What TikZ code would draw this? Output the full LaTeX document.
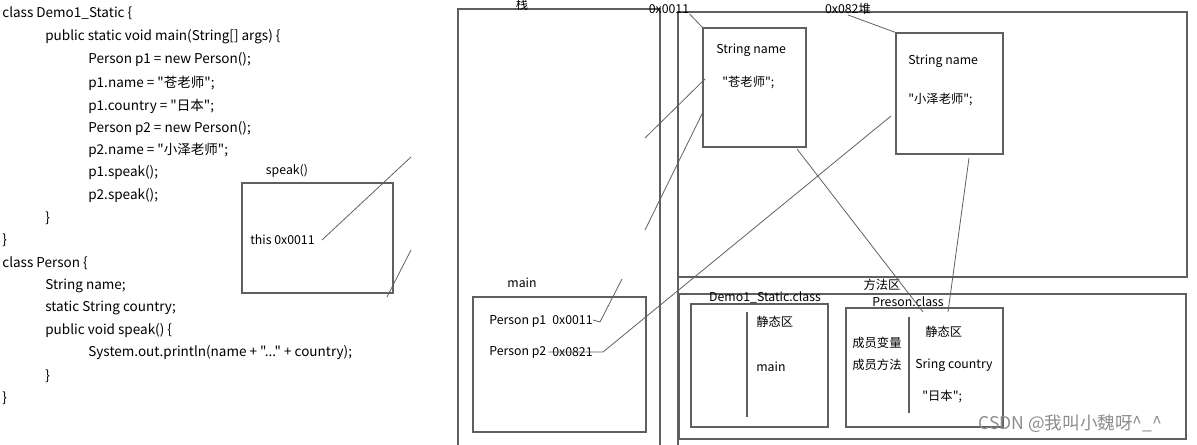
\documentclass[tikz,border=0pt]{standalone}
\usepackage{fontspec}
\setmainfont{Noto Sans CJK SC}[Ligatures=TeXOff]
\usetikzlibrary{positioning,fit}
\definecolor{memline}{RGB}{95,95,95}
\newcommand{\threedots}{...}

\begin{document}
\begin{tikzpicture}[x=0.02cm,y=-0.02cm,font=\fontsize{7}{8}\selectfont,
  box/.style={draw=memline,line width=0.65pt,inner sep=0pt},
  lnk/.style={draw=memline,line width=0.45pt},
  txt/.style={anchor=west,inner sep=0pt},
  code/.style={txt,font=\fontsize{7.7}{9}\selectfont},
  lbl/.style={inner sep=0pt}]
\useasboundingbox (0,0) rectangle (1197,445);
% source code on the left
\foreach \x/\y/\t [count=\i] in {2/13/class Demo1\_Static \{,
  45/37/public static void main(String[] args) \{,
  88/60/Person p1 = new Person();, 88/83/p1.name = "苍老师";,
  88/106/p1.country = "日本";, 88/129/Person p2 = new Person();,
  88/150/p2.name = "小泽老师";, 88/173/p1.speak();, 88/196/p2.speak();,
  45/218/\}, 2/240/\}, 2/263/class Person \{, 45/286/String name;,
  45/308/static String country;, 45/331/public void speak() \{,
  88/353/System.out.println(name + "\threedots" + country);, 45/376/\}, 2/398/\}}
  \node[code] (code\i) at (\x,\y) {\t};
% speak() frame
\node[box,fit={(242,183)(393,293)}] (speak) {};
\node[lbl] (speaklbl) at (287,171) {speak()};
\node[txt] (thisref) at (250,240) {this 0x0011};
\coordinate (t1) at (411,157); \coordinate (t2) at (411,250); \coordinate (t3) at (387,297);
\draw[lnk] ([xshift=4pt]thisref.east) -- (t1);
\draw[lnk] (t2) -- (t3);
% stack
\draw[box] (458,460) -- (458,9) -- (660,9) -- (660,460);
\node[lbl] (stacklbl) at (522,5) {栈};
\node[box,fit={(473,297)(646,432)}] (mainfr) {};
\node[lbl] (mainlbl) at (522,283) {main};
\node[txt] (p1) at (489,321) {Person p1};
\node[txt] (p1ref) at (552,320) {0x0011};
\node[txt] (p2) at (489,352) {Person p2};
\node[txt] (p2ref) at (552,352) {0x0821};
% heap
\draw[box] (678,460) -- (678,12) -- (1187,12) -- (1187,277) -- (678,277);
\node[lbl] (addr1) at (669,9) {0x0011};
\node[lbl] (addr2) at (848,9) {0x082堆};
\node[box,fit={(703,28)(806,147)}] (obj1) {};
\node[txt] (obj1name) at (716,50) {String name};
\node[txt] (obj1val) at (722,83) {"苍老师";};
\node[box,fit={(896,33)(1003,154)}] (obj2) {};
\node[txt] (obj2name) at (908,61) {String name};
\node[txt] (obj2val) at (908,100) {"小泽老师";};
% method area
\node[box,fit={(679,294)(1186,439)}] (method) {};
\node[lbl] (methodlbl) at (882,285) {方法区};
\node[box,fit={(691,304)(828,427)}] (democls) {};
\node[lbl] (demolbl) at (765,297) {Demo1\_Static.class};
\draw[box] (747,312) -- (747,417);
\node[txt] (demostat) at (756,322) {静态区};
\node[txt] (demomain) at (756,367) {main};
\node[box,fit={(846,308)(1003,427)}] (personcls) {};
\node[lbl] (personlbl) at (908,302) {Preson.class};
\draw[box] (909,317) -- (909,413);
\node[txt] (pvar) at (852,343) {成员变量};
\node[txt] (pmeth) at (852,365) {成员方法};
\node[txt] (pstat) at (925,332) {静态区};
\node[txt] (pcountry) at (915,365) {Sring country};
\node[txt] (pval) at (922,397) {"日本";};
% references
\coordinate (a1) at (645,138); \coordinate (a2) at (705,79);
\coordinate (b1) at (703,112); \coordinate (b2) at (645,230);
\coordinate (c1) at (622,279); \coordinate (c2) at (600,322);
\coordinate (d1) at (603,352); \coordinate (d2) at (891,116);
\coordinate (e1) at (797,149); \coordinate (e2) at (923,312);
\coordinate (f1) at (969,158); \coordinate (f2) at (948,312);
\draw[lnk] (addr1.south east) -- (obj1.north west);
\draw[lnk] (addr2.south) -- (obj2.north west);
\draw[lnk] (a1) -- (a2); \draw[lnk] (b1) -- (b2);
\draw[lnk] (c1) -- (c2) -- (p1ref.east);
\draw[lnk] ([xshift=-2pt]p2ref.west) -- (d1) -- (d2);
\draw[lnk] (e1) -- (e2); \draw[lnk] (f1) -- (f2);
\node[lbl,text=black!45,font=\fontsize{10}{10}\selectfont,anchor=west] (mark) at (978,424) {CSDN @我叫小魏呀\char"5E\_\char"5E};
\end{tikzpicture}
\end{document}
